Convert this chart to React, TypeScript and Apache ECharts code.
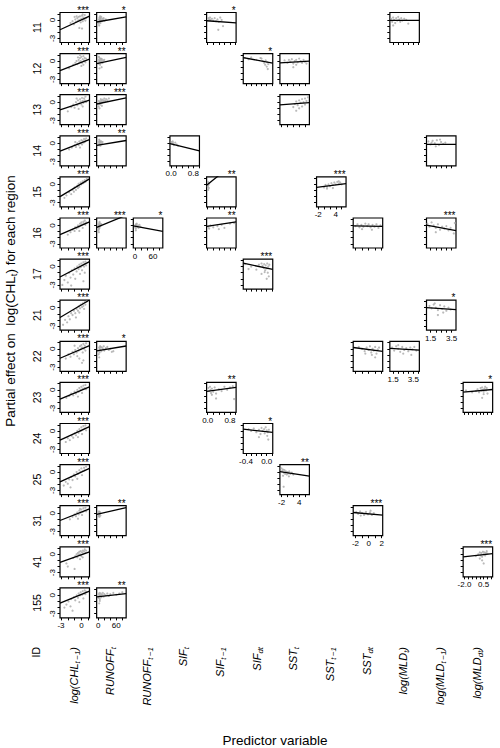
import React, { useEffect, useRef } from 'react';
import * as echarts from 'echarts';

const FONT = '"Liberation Sans", Arial, Helvetica, sans-serif';

// ---- categories ----
const regionIds = ['11', '12', '13', '14', '15', '16', '17', '21', '22', '23', '24', '25', '31', '41', '155'];
// predictor labels: [main, subscript, tail]
const predictorLabels = [
  ['log(CHL', 't\u2009\u22121', ')'],
  ['RUNOFF', 't', ''],
  ['RUNOFF', 't\u2009\u22121', ''],
  ['SIF', 't', ''],
  ['SIF', 't\u2009\u22121', ''],
  ['SIF', 'dt', ''],
  ['SST', 't', ''],
  ['SST', 't\u2009\u22121', ''],
  ['SST', 'dt', ''],
  ['log(MLD', 't', ')'],
  ['log(MLD', 't\u2009\u22121', ')'],
  ['log(MLD', 'dt', ')'],
];

// ---- axes ----
const xRanges = [
  [-3.15, 1.2], [-5.5, 92.7], [-5.5, 92.7], [-0.04, 1.02], [-0.04, 1.02], [-0.452, 0.116],
  [-2.58, 7.5], [-2.58, 7.5], [-2.35, 2.15], [1.17, 4.1], [1.12, 3.91], [-2.17, 1.67],
];
const xTicks = [
  [-3, -2, -1, 0, 1], [0, 20, 40, 60, 80], [0, 20, 40, 60, 80], [0, 0.2, 0.4, 0.6, 0.8, 1.0],
  [0, 0.2, 0.4, 0.6, 0.8, 1.0], [-0.4, -0.3, -0.2, -0.1, 0, 0.1], [-2, 0, 2, 4, 6], [-2, 0, 2, 4, 6],
  [-2, -1, 0, 1, 2], [1.5, 2, 2.5, 3, 3.5, 4], [1.5, 2, 2.5, 3, 3.5], [-2, -1.5, -1, -0.5, 0, 0.5, 1, 1.5],
];
const xTickLabels = [
  [-3, 0], [0, 60], [0, 60], [0, 0.8], [0, 0.8], [-0.4, 0], [-2, 4], [-2, 4], [-2, 0, 2], [1.5, 3.5], [1.5, 3.5], [-2, 0.5],
];
const xLabelDecimals = [0, 0, 0, 1, 1, 1, 0, 0, 0, 1, 1, 1];
const yRange = [-3.68, 1.22];
const yTicks = [-3, -2, -1, 0, 1];
const yTickLabels = [-3, 0];

// ---- partial residual points ----
const p11_chl = [[-1.6,-0.5],[-1.3,-0.2],[-1.1,-0.7],[-0.9,0.1],[-0.8,-0.3],[-0.6,0.3],[-0.5,-0.1],[-0.4,0.5],[-0.3,0.0],[-0.2,0.6],[-0.1,-0.4],[0,0.2],[0.1,0.7],[0.2,-0.2],[0.3,0.4],[0.4,0.1],[0.5,0.8],[0.6,-0.1],[0.2,0.9],[-0.7,0.6],[-0.3,-1.3],[0.1,-1.4],[0.7,0.3],[-1.0,0.5]];
const p11_run = [[1,-0.6],[2,0.1],[3,-0.3],[4,0.4],[5,-0.1],[6,0.2],[7,-0.5],[8,0.3],[9,0.0],[10,0.5],[12,-0.2],[14,0.2],[16,0.0],[18,0.3],[20,-0.1],[25,0.1],[3,-0.9],[6,0.6]];
const p11_sif1 = [[0.02,0.3],[0.05,0.1],[0.08,0.4],[0.1,0.0],[0.15,0.2],[0.2,-0.1],[0.25,0.3],[0.3,-0.2],[0.35,0.1],[0.4,-0.3],[0.45,0.4],[0.5,0.0],[0.38,-1.6],[0.55,-1.0]];
const p11_mld = [[1.3,0.2],[1.4,-0.3],[1.5,0.4],[1.6,0.0],[1.7,-0.5],[1.8,0.3],[1.9,-0.1],[2.0,0.5],[2.1,0.1],[2.2,-0.3],[2.3,0.3],[2.4,-0.1],[2.6,0.2],[2.8,0.0],[3.0,-0.6],[1.5,-0.9]];
const p12_chl = [[-1.8,-1.2],[-1.2,-0.6],[-0.9,-0.3],[-0.7,0.0],[-0.6,-0.5],[-0.4,0.2],[-0.3,-0.2],[-0.2,0.5],[-0.1,0.0],[0,0.7],[0.1,-0.3],[0.2,0.3],[0.3,0.8],[0.4,0.1],[0.5,0.5],[0.6,-0.2],[0.7,0.4],[-0.5,0.6],[0.0,-0.8],[0.3,-0.6],[-0.2,1.0]];
const p12_run = [[1,-0.4],[2,0.2],[3,-0.1],[4,0.5],[5,0.0],[6,-0.6],[7,0.3],[8,-0.2],[9,0.4],[10,0.0],[12,0.3],[14,-0.3],[16,0.1],[4,-1.2],[11,-1.0],[2,0.7],[20,0.2]];
const p12_sifdt = [[-0.42,0.5],[-0.35,0.3],[-0.3,0.6],[-0.2,0.2],[-0.12,0.5],[-0.08,0.0],[-0.05,-0.3],[-0.03,-0.6],[-0.02,0.1],[0.0,-0.9],[0.01,-0.2],[0.02,-1.3],[0.03,-0.5],[-0.1,0.4]];
const p12_sst = [[-1,0.1],[0,-0.3],[0.5,0.2],[1,-0.1],[1.5,0.3],[2,-0.4],[2.5,0.0],[3,0.2],[3.5,-0.2],[4,0.4],[4.5,0.0],[5,-0.3],[5.5,0.2],[6,-0.1],[6.5,-0.4],[2,-1.0],[3,-0.6]];
const p13_chl = [[-2.0,-1.5],[-1.5,-0.8],[-1.2,-0.4],[-1.0,-0.9],[-0.8,0.0],[-0.6,-0.5],[-0.5,0.3],[-0.3,-0.2],[-0.2,0.5],[-0.1,0.1],[0,-0.4],[0.1,0.7],[0.2,0.2],[0.3,-0.1],[0.4,0.6],[0.5,0.3],[0.6,0.9],[0.7,0.0],[-0.4,-1.1],[0.2,-0.7],[-0.7,0.6]];
const p13_run = [[1,-0.7],[3,-0.3],[5,0.0],[7,-0.4],[9,0.2],[11,-0.1],[13,0.4],[15,0.1],[18,0.3],[20,0.6],[23,0.2],[26,0.5],[30,0.3],[35,0.6],[4,-1.0],[8,0.5],[12,-0.6],[2,0.2]];
const p13_sst = [[2,-0.8],[2.5,-0.3],[3,0.1],[3.5,-0.5],[4,0.3],[4.5,-0.1],[5,0.5],[5.5,0.0],[6,0.6],[6.5,0.2],[7,0.8],[4,-1.0],[5,-0.7],[6,-0.4],[3,-1.4]];
const p14_chl = [[-1.8,-1.0],[-1.4,-0.7],[-1.0,-0.3],[-0.8,-0.6],[-0.6,0.0],[-0.4,-0.3],[-0.3,0.3],[-0.1,0.0],[0,0.5],[0.1,-0.2],[0.2,0.4],[0.3,0.1],[0.4,0.7],[0.5,0.2],[0.6,0.5],[-0.2,-0.7],[0.7,0.8],[-0.9,0.2]];
const p14_run = [[1,-0.3],[2,0.2],[3,-0.1],[4,0.4],[5,0.0],[6,0.3],[7,-0.4],[8,0.1],[10,0.3],[12,-0.1],[14,0.2],[3,0.6]];
const p14_sif = [[0.02,0.2],[0.04,-0.1],[0.06,0.3],[0.08,0.0],[0.1,-0.3],[0.15,0.1],[0.2,-0.2],[0.25,-0.4]];
const p14_mld1 = [[1.3,0.3],[1.5,-0.2],[1.7,0.4],[1.9,0.0],[2.1,0.5],[2.3,-0.3],[2.5,0.2],[2.7,-0.1],[1.6,0.1],[2.0,-0.5],[2.4,0.6],[2.9,0.1]];
const p15_chl = [[-2.5,-2.2],[-2.2,-1.8],[-1.8,-1.3],[-1.5,-1.6],[-1.3,-0.9],[-1.0,-0.5],[-0.8,-0.9],[-0.6,-0.2],[-0.4,0.1],[-0.3,-0.4],[-0.1,0.3],[0,0.0],[0.2,0.5],[0.3,0.2],[0.5,0.7],[0.6,0.4],[0.8,0.9],[-1.1,-1.2],[-0.5,-0.6]];
const p15_sif1 = [[0.0,-0.4],[0.01,0.0],[0.02,-0.2],[0.03,0.2],[0.04,-0.6],[0.05,0.1],[0.02,-0.9],[0.01,0.4]];
const p15_sst1 = [[0,-0.5],[0.5,-0.1],[1,-0.4],[1.5,0.0],[2,-0.3],[2.5,0.2],[3,-0.1],[3.5,0.3],[4,0.0],[4.5,0.4],[5,0.1],[5.5,0.3],[6,0.0],[1,-0.7],[3,-0.6],[5,0.5]];
const p16_chl = [[-2.0,-1.5],[-1.6,-1.1],[-1.3,-0.7],[-1.0,-0.9],[-0.9,-0.3],[-0.7,-0.5],[-0.5,0.0],[-0.4,-0.3],[-0.2,0.3],[-0.1,0.0],[0,0.5],[0.1,0.2],[0.3,0.6],[0.4,0.3],[0.5,0.8],[0.6,0.1],[0.7,0.5],[-0.3,-0.9],[0.2,-0.4]];
const p16_run = [[0.5,-0.8],[1,-0.3],[1.5,0.2],[2,-0.6],[2.5,0.0],[3,-0.2],[3.5,0.4],[4,-0.4],[5,0.1],[6,-0.1],[7,0.3],[8,0.0],[2,-1.1],[4,0.6],[10,0.2]];
const p16_run1 = [[1,-0.3],[2,0.1],[3,-0.5],[4,0.2],[5,-0.1],[6,0.3],[8,-0.2],[10,0.0],[12,-0.4],[15,0.1],[18,-0.2],[3,-0.8]];
const p16_sif1 = [[0.02,-0.2],[0.05,-0.5],[0.1,0.0],[0.2,-0.3],[0.35,-0.1],[0.5,0.1],[0.6,-0.4],[0.8,0.3],[0.95,0.4],[0.4,-0.6]];
const p16_sstdt = [[-2,-0.1],[-1.7,0.2],[-1.4,-0.3],[-1.1,0.1],[-0.8,-0.2],[-0.5,0.3],[-0.2,-0.1],[0,0.2],[0.3,-0.3],[0.6,0.1],[0.9,-0.2],[1.2,0.2],[1.5,-0.4],[1.8,0.0],[0.5,-0.7],[-1,-0.6]];
const p16_mld1 = [[1.2,0.3],[1.4,-0.2],[1.6,0.5],[1.8,0.0],[2.0,-0.4],[2.2,0.2],[2.4,-0.7],[2.6,-0.2],[2.8,-0.5],[3.0,-0.1],[3.2,-0.8],[3.4,-0.4],[3.7,-1.3],[3.8,0.4],[2.0,-1.1]];
const p17_chl = [[-2.8,-3.0],[-2.5,-2.2],[-2.3,-1.5],[-2.0,-2.6],[-1.8,-1.0],[-1.6,-1.8],[-1.4,-0.6],[-1.2,-1.3],[-1.0,-0.3],[-0.9,-2.0],[-0.7,-0.8],[-0.6,0.0],[-0.4,-0.4],[-0.3,0.3],[-0.1,-0.1],[0,0.5],[0.1,-0.6],[0.2,0.2],[0.3,0.7],[0.4,0.0],[0.5,0.4],[0.6,0.8],[0.7,0.2],[-0.2,-1.2],[0.3,-2.4],[-1.5,-3.1],[0.5,-1.0]];
const p17_sifdt = [[-0.42,0.4],[-0.35,-0.4],[-0.3,0.0],[-0.2,-0.5],[-0.15,0.3],[-0.1,0.5],[-0.08,0.1],[-0.06,-0.2],[-0.05,0.4],[-0.03,-0.6],[-0.02,0.2],[0.0,-0.3],[0.01,0.5],[0.02,-1.0],[0.03,0.0],[0.04,-1.6],[0.05,0.3],[-0.1,-1.2],[0.0,-2.0],[-0.04,-0.9]];
const p21_chl = [[-2.7,-2.8],[-2.4,-2.0],[-2.1,-2.4],[-1.9,-1.4],[-1.7,-1.9],[-1.5,-0.9],[-1.3,-1.2],[-1.1,-0.5],[-0.9,-0.9],[-0.7,-0.2],[-0.5,-0.5],[-0.4,0.2],[-0.2,-0.1],[-0.1,0.5],[0.1,0.1],[0.2,0.7],[0.3,0.3],[0.5,0.9],[0.6,0.5],[0.8,1.0],[-0.8,-1.6],[-0.3,-0.8],[0.4,-0.2]];
const p21_mld1 = [[1.4,0.3],[1.6,-0.1],[1.8,0.5],[2.0,0.0],[2.2,-0.4],[2.4,0.4],[2.6,-0.2],[2.8,0.2],[3.0,-0.5],[3.2,0.0],[3.4,-0.3],[2.2,-1.2],[2.7,-0.8],[1.9,0.7]];
const p22_chl = [[-2.3,-1.6],[-1.9,-0.9],[-1.6,-1.3],[-1.3,-0.5],[-1.1,-0.9],[-0.9,-0.2],[-0.7,-0.6],[-0.5,0.1],[-0.4,-0.3],[-0.2,0.4],[-0.1,-0.1],[0,0.6],[0.1,0.2],[0.3,0.8],[0.4,0.0],[0.5,0.5],[0.7,0.9],[-0.6,-1.2],[0.2,-0.6],[-1.0,0.5],[0.6,-0.3],[-0.3,-1.6],[0.1,-2.3],[0.3,-1.9]];
const p22_run = [[1,-0.9],[2,-0.3],[3,0.2],[4,-0.6],[5,0.0],[6,0.4],[7,-0.2],[8,0.3],[10,-0.4],[12,0.2],[15,0.0],[18,0.4],[20,-0.3],[25,0.1],[30,0.3],[35,-0.2],[40,0.0],[3,-1.4],[45,-0.5],[50,-0.4]];
const p22_sstdt = [[-1.5,0.3],[-1,0.0],[-0.6,-0.4],[-0.3,0.2],[0,-0.2],[0.2,0.4],[0.4,-0.6],[0.6,0.0],[0.8,-0.3],[1.0,0.3],[1.2,-0.8],[1.4,-0.1],[1.6,0.2],[0.5,-1.0],[1.0,-1.4],[-0.5,-0.8]];
const p22_mld = [[1.4,0.2],[1.6,-0.3],[1.8,0.4],[2.0,0.0],[2.2,-0.5],[2.4,0.3],[2.6,-0.2],[2.8,0.1],[3.0,-0.4],[3.2,0.2],[3.4,-0.1],[3.6,0.3],[3.8,-0.3],[2.5,-0.8],[3.3,-1.0],[2.0,0.6]];
const p23_chl = [[-2.2,-1.3],[-1.8,-1.0],[-1.5,-0.6],[-1.2,-0.9],[-1.0,-0.3],[-0.8,-0.6],[-0.6,0.0],[-0.4,-0.3],[-0.3,0.3],[-0.1,0.0],[0,0.5],[0.2,0.2],[0.3,0.7],[0.5,0.3],[0.6,0.8],[-0.5,-1.1],[0.1,-0.5],[0.7,0.1]];
const p23_sif1 = [[0.02,0.3],[0.05,-0.2],[0.08,0.5],[0.1,0.0],[0.12,-0.5],[0.15,0.2],[0.2,-0.3],[0.25,0.4],[0.3,-0.6],[0.4,0.1],[0.5,-0.2],[0.6,0.5],[0.7,0.0],[0.8,0.4],[0.9,0.6],[0.95,-1.5],[0.3,-1.4],[0.15,-0.8]];
const p23_mlddt = [[-1.8,-0.1],[-1.0,-0.4],[-0.5,-0.2],[-0.3,0.1],[-0.1,-0.4],[0.1,0.3],[0.2,-0.1],[0.3,0.4],[0.4,0.0],[0.5,-0.3],[0.6,0.2],[0.7,0.5],[0.8,-0.1],[0.9,0.3],[1.0,-0.6],[0.3,-1.3],[0.5,-0.7]];
const p24_chl = [[-2.3,-1.8],[-2.0,-1.2],[-1.7,-1.5],[-1.4,-0.8],[-1.2,-1.1],[-1.0,-0.4],[-0.8,-0.7],[-0.6,0.0],[-0.4,-0.3],[-0.3,0.3],[-0.1,0.0],[0,0.6],[0.2,0.2],[0.3,0.8],[0.5,0.4],[0.6,0.9],[0.7,0.1],[-0.5,-1.0],[0.1,-0.5]];
const p24_sifdt = [[-0.35,0.3],[-0.3,0.0],[-0.25,0.4],[-0.2,-0.2],[-0.15,0.2],[-0.12,-0.5],[-0.1,0.5],[-0.08,0.0],[-0.05,0.3],[-0.04,-0.4],[-0.02,0.6],[0.0,0.1],[0.01,-0.8],[0.02,-0.2],[0.03,-1.4],[0.04,0.2],[-0.15,-1.0]];
const p25_chl = [[-2.6,-2.2],[-2.3,-1.6],[-2.0,-1.9],[-1.8,-1.2],[-1.5,-0.8],[-1.3,-1.3],[-1.1,-0.4],[-0.9,-0.7],[-0.7,0.0],[-0.5,-0.3],[-0.3,0.3],[-0.1,0.0],[0,0.6],[0.2,0.2],[0.4,0.7],[0.5,0.3],[0.7,0.9],[-0.6,-1.1],[0.1,-0.5],[-1.6,-2.5]];
const p25_sst = [[-2,0.6],[-1.8,0.2],[-1.5,0.4],[-1.2,-0.1],[-1,0.3],[-0.8,-0.3],[-0.5,0.1],[-0.2,-0.4],[0,0.0],[0.3,-0.2],[0.6,0.1],[1,-0.3],[1.5,-0.1],[2,-0.4],[-1.5,-0.6],[0.5,-0.7],[-1.3,-2.4]];
const p31_chl = [[-1.7,-1.0],[-1.3,-0.6],[-1.0,-0.2],[-0.8,-0.5],[-0.6,0.1],[-0.4,-0.2],[-0.3,0.4],[-0.1,0.1],[0,0.6],[0.2,0.2],[0.3,0.8],[0.5,0.4],[0.6,0.9],[0.7,0.3],[-0.5,-0.9],[0.1,-0.3],[-0.2,0.7]];
const p31_run = [[1,-0.5],[2,0.0],[3,-0.3],[4,0.2],[5,-0.1],[6,0.1],[7,-0.4],[2,0.3],[4,-0.6]];
const p31_sstdt = [[-1.9,0.2],[-1.6,-0.1],[-1.3,0.3],[-1.0,0.0],[-0.7,-0.3],[-0.4,0.2],[-0.1,-0.2],[0.2,0.1],[0.5,-0.3],[0.8,0.0],[-1.2,-0.4],[0.3,0.4]];
const p41_chl = [[-2.2,-1.5],[-2.0,-2.0],[-1.0,-2.4],[-1.2,-0.6],[-0.9,-0.3],[-0.7,0.0],[-0.6,-0.5],[-0.5,0.2],[-0.4,-0.1],[-0.3,0.4],[-0.2,0.0],[-0.1,0.5],[0,-0.3],[0.1,0.3],[0.2,0.6],[0.3,0.1],[0.4,0.5],[0.5,0.8],[0.6,0.2],[0.7,0.6],[-0.2,-0.8],[0.2,-0.5]];
const p41_mlddt = [[-0.5,-0.3],[-0.2,0.0],[0.0,0.3],[0.1,-0.2],[0.2,0.2],[0.3,-0.4],[0.4,0.4],[0.5,0.0],[0.6,0.3],[0.7,-0.2],[0.8,0.2],[0.9,0.5],[1.0,0.1],[0.3,-1.0],[0.5,-1.5],[0.0,-0.7]];
const p155_chl = [[-2.5,-2.0],[-2.2,-1.5],[-1.9,-1.0],[-1.6,-1.8],[-1.5,-0.6],[-1.3,-2.5],[-1.1,-0.3],[-0.9,-0.8],[-0.7,0.0],[-0.5,-0.4],[-0.4,0.3],[-0.2,0.0],[-0.1,0.5],[0.1,0.1],[0.2,0.7],[0.4,0.3],[0.5,0.8],[0.6,0.2],[0.7,0.6],[-0.3,-1.1],[0.3,-0.5]];
const p155_run = [[1,-0.4],[2,0.2],[3,-0.1],[4,0.4],[5,-0.6],[6,0.0],[8,0.3],[10,-0.3],[12,0.1],[15,0.4],[18,-0.2],[20,0.2],[25,0.0],[30,0.3],[35,-0.1],[40,0.2],[50,0.4],[60,0.1],[70,0.3],[80,0.5],[3,-1.3],[5,-0.9]];

// ---- panels: region row, predictor column, points, fitted effect at axis ends, significance ----
const panels = [
  { row: 0, col: 0, pts: p11_chl, fit: [-1.6, 0.62], stars: '***' },
  { row: 0, col: 1, pts: p11_run, fit: [-0.33, 0.5], stars: '*' },
  { row: 0, col: 4, pts: p11_sif1, fit: [-0.13, -0.47], stars: '*' },
  { row: 0, col: 9, pts: p11_mld, fit: [-0.05, -0.05], stars: '' },
  { row: 1, col: 0, pts: p12_chl, fit: [-1.55, 0.31], stars: '***' },
  { row: 1, col: 1, pts: p12_run, fit: [-0.42, 0.6], stars: '**' },
  { row: 1, col: 5, pts: p12_sifdt, fit: [0.55, -0.33], stars: '*' },
  { row: 1, col: 6, pts: p12_sst, fit: [-0.28, 0.0], stars: '' },
  { row: 2, col: 0, pts: p13_chl, fit: [-1.25, 0.35], stars: '***' },
  { row: 2, col: 1, pts: p13_run, fit: [-0.3, 0.7], stars: '***' },
  { row: 2, col: 6, pts: p13_sst, fit: [-0.43, -0.08], stars: '' },
  { row: 3, col: 0, pts: p14_chl, fit: [-1.3, 0.6], stars: '***' },
  { row: 3, col: 1, pts: p14_run, fit: [-0.35, 0.45], stars: '**' },
  { row: 3, col: 3, pts: p14_sif, fit: [-0.05, -1.25], stars: '' },
  { row: 3, col: 10, pts: p14_mld1, fit: [-0.18, -0.18], stars: '' },
  { row: 4, col: 0, pts: p15_chl, fit: [-2.0, 0.9], stars: '***' },
  { row: 4, col: 4, pts: p15_sif1, fit: [-0.13, 3.72], stars: '**' },
  { row: 4, col: 7, pts: p15_sst1, fit: [-0.5, 0.11], stars: '***' },
  { row: 5, col: 0, pts: p16_chl, fit: [-1.5, 0.6], stars: '***' },
  { row: 5, col: 1, pts: p16_run, fit: [-0.32, 1.67], stars: '***' },
  { row: 5, col: 2, pts: p16_run1, fit: [-0.05, -0.96], stars: '*' },
  { row: 5, col: 4, pts: p16_sif1, fit: [-0.15, 0.6], stars: '**' },
  { row: 5, col: 8, pts: p16_sstdt, fit: [-0.08, -0.15], stars: '' },
  { row: 5, col: 10, pts: p16_mld1, fit: [0.06, -0.86], stars: '***' },
  { row: 6, col: 0, pts: p17_chl, fit: [-1.7, 0.8], stars: '***' },
  { row: 6, col: 5, pts: p17_sifdt, fit: [0.55, -0.47], stars: '***' },
  { row: 7, col: 0, pts: p21_chl, fit: [-1.6, 1.25], stars: '***' },
  { row: 7, col: 10, pts: p21_mld1, fit: [0.01, -0.33], stars: '*' },
  { row: 8, col: 0, pts: p22_chl, fit: [-1.55, 0.5], stars: '***' },
  { row: 8, col: 1, pts: p22_run, fit: [-0.33, 0.45], stars: '*' },
  { row: 8, col: 8, pts: p22_sstdt, fit: [0.21, -0.43], stars: '' },
  { row: 8, col: 9, pts: p22_mld, fit: [0.06, -0.23], stars: '' },
  { row: 9, col: 0, pts: p23_chl, fit: [-1.5, 0.5], stars: '***' },
  { row: 9, col: 4, pts: p23_sif1, fit: [-0.23, 0.4], stars: '**' },
  { row: 9, col: 11, pts: p23_mlddt, fit: [-0.38, 0.06], stars: '*' },
  { row: 10, col: 0, pts: p24_chl, fit: [-1.5, 0.7], stars: '***' },
  { row: 10, col: 5, pts: p24_sifdt, fit: [0.3, -0.23], stars: '*' },
  { row: 11, col: 0, pts: p25_chl, fit: [-1.6, 0.6], stars: '***' },
  { row: 11, col: 6, pts: p25_sst, fit: [0.08, -0.66], stars: '**' },
  { row: 12, col: 0, pts: p31_chl, fit: [-1.2, 0.7], stars: '***' },
  { row: 12, col: 1, pts: p31_run, fit: [-0.18, 0.9], stars: '**' },
  { row: 12, col: 8, pts: p31_sstdt, fit: [0.11, -0.33], stars: '***' },
  { row: 13, col: 0, pts: p41_chl, fit: [-1.33, 0.4], stars: '***' },
  { row: 13, col: 11, pts: p41_mlddt, fit: [-0.42, 0.11], stars: '***' },
  { row: 14, col: 0, pts: p155_chl, fit: [-1.25, 0.7], stars: '***' },
  { row: 14, col: 1, pts: p155_run, fit: [-0.23, 0.3], stars: '**' },
];

// ---- layout ----
const PANEL_X0 = 60;
const COL_STEP = 36.65;
const PANEL_W = 29.5;
const PANEL_Y0 = 12.5;
const ROW_STEP = 41.1;
const PANEL_H = 30;

function subRich(size: number, italic: boolean) {
  const style = italic ? 'italic' : 'normal';
  return {
    m: { fontSize: size, fontFamily: FONT, fontStyle: style, fill: '#000', color: '#000', lineHeight: size + 4, verticalAlign: 'middle' },
    s: { fontSize: size * 0.72, fontFamily: FONT, fontStyle: style, fill: '#000', color: '#000', verticalAlign: 'bottom' },
  };
}

function buildOption() {
  const grids: any[] = [];
  const xAxes: any[] = [];
  const yAxes: any[] = [];
  const series: any[] = [];
  const graphics: any[] = [];
  const lastRow = predictorLabels.map(() => -1);
  panels.forEach((p) => {
    if (p.row > lastRow[p.col]) lastRow[p.col] = p.row;
  });

  panels.forEach((p, k) => {
    const left = PANEL_X0 + COL_STEP * p.col;
    const top = PANEL_Y0 + ROW_STEP * p.row;
    const xr = xRanges[p.col];
    const dec = xLabelDecimals[p.col];
    grids.push({
      left, top, width: PANEL_W, height: PANEL_H,
      show: true, borderColor: '#000', borderWidth: 1.2, backgroundColor: 'transparent',
    });
    xAxes.push({
      gridIndex: k, type: 'value', min: xr[0], max: xr[1], position: 'bottom',
      axisLine: { show: false, onZero: false }, splitLine: { show: false },
      axisTick: { show: true, length: 2.5, lineStyle: { color: '#000', width: 1 }, customValues: xTicks[p.col] },
      axisLabel: {
        show: lastRow[p.col] === p.row, customValues: xTickLabels[p.col],
        formatter: (v: any) => Number(v).toFixed(dec),
        fontSize: 8, color: '#000', margin: 4, fontFamily: FONT,
      },
    });
    yAxes.push({
      gridIndex: k, type: 'value', min: yRange[0], max: yRange[1], position: 'left',
      axisLine: { show: false, onZero: false }, splitLine: { show: false },
      axisTick: { show: true, length: 2.5, lineStyle: { color: '#000', width: 1 }, customValues: yTicks },
      axisLabel: {
        show: p.col === 0, customValues: yTickLabels, rotate: 90,
        formatter: (v: any) => Number(v).toFixed(0),
        fontSize: 8, color: '#000', margin: 4, fontFamily: FONT,
      },
    });
    series.push({
      type: 'scatter', xAxisIndex: k, yAxisIndex: k, data: p.pts,
      symbol: 'circle', symbolSize: 2.2, itemStyle: { color: '#a9a9a9' }, silent: true,
    });
    series.push({
      type: 'line', xAxisIndex: k, yAxisIndex: k,
      data: [[xr[0], p.fit[0]], [xr[1], p.fit[1]]],
      showSymbol: false, symbol: 'none', clip: true, silent: true,
      lineStyle: { color: '#000', width: 1.3 },
    });
    if (p.stars) {
      graphics.push({
        type: 'text', x: left + PANEL_W - 0.5, y: top + 2.5, silent: true,
        style: {
          text: p.stars, fontSize: 10, fontFamily: FONT, fill: '#000',
          align: 'right', verticalAlign: 'bottom', textAlign: 'right', textVerticalAlign: 'bottom',
        },
      });
    }
  });

  // region IDs
  regionIds.forEach((id, r) => {
    graphics.push({
      type: 'text', x: 37, y: PANEL_Y0 + ROW_STEP * r + PANEL_H / 2, rotation: Math.PI / 2, silent: true,
      style: {
        text: id, fontSize: 10.5, fontFamily: FONT, fill: '#000',
        align: 'center', verticalAlign: 'middle', textAlign: 'center', textVerticalAlign: 'middle',
      },
    });
  });

  // column labels
  graphics.push({
    type: 'text', x: 35.5, y: 647, rotation: Math.PI / 2, silent: true,
    style: {
      text: 'ID', fontSize: 10.5, fontFamily: FONT, fill: '#000',
      align: 'right', verticalAlign: 'middle', textAlign: 'right', textVerticalAlign: 'middle',
    },
  });
  predictorLabels.forEach((lab, i) => {
    const txt = '{m|' + lab[0] + '}{s|' + lab[1] + '}' + (lab[2] ? '{m|' + lab[2] + '}' : '');
    graphics.push({
      type: 'text', x: 73.5 + COL_STEP * i, y: 647, rotation: Math.PI / 2, silent: true,
      style: {
        text: txt, rich: subRich(11, true), fill: '#000',
        align: 'right', verticalAlign: 'middle', textAlign: 'right', textVerticalAlign: 'middle',
      },
    });
  });

  // axis titles
  graphics.push({
    type: 'text', x: 10, y: 301, rotation: Math.PI / 2, silent: true,
    style: {
      text: '{m|Partial effect on  log(CHL}{s|t}{m|) for each region}', rich: subRich(13.5, false), fill: '#000',
      align: 'center', verticalAlign: 'middle', textAlign: 'center', textVerticalAlign: 'middle',
    },
  });
  graphics.push({
    type: 'text', x: 275, y: 740, silent: true,
    style: {
      text: 'Predictor variable', fontSize: 13.5, fontFamily: FONT, fill: '#000',
      align: 'center', verticalAlign: 'middle', textAlign: 'center', textVerticalAlign: 'middle',
    },
  });

  return {
    animation: false,
    backgroundColor: '#ffffff',
    textStyle: { fontFamily: FONT },
    grid: grids,
    xAxis: xAxes,
    yAxis: yAxes,
    series,
    graphic: { elements: graphics },
  };
}

export default function App() {
  const ref = useRef<HTMLDivElement>(null);
  useEffect(() => {
    if (!ref.current) return;
    const chart = echarts.init(ref.current, undefined, { renderer: 'svg' });
    chart.setOption(buildOption() as any);
    return () => chart.dispose();
  }, []);
  return (
    <div
      ref={ref}
      style={{ position: 'absolute', left: 0, top: 0, width: 500, height: 748, background: '#fff' }}
    />
  );
}
